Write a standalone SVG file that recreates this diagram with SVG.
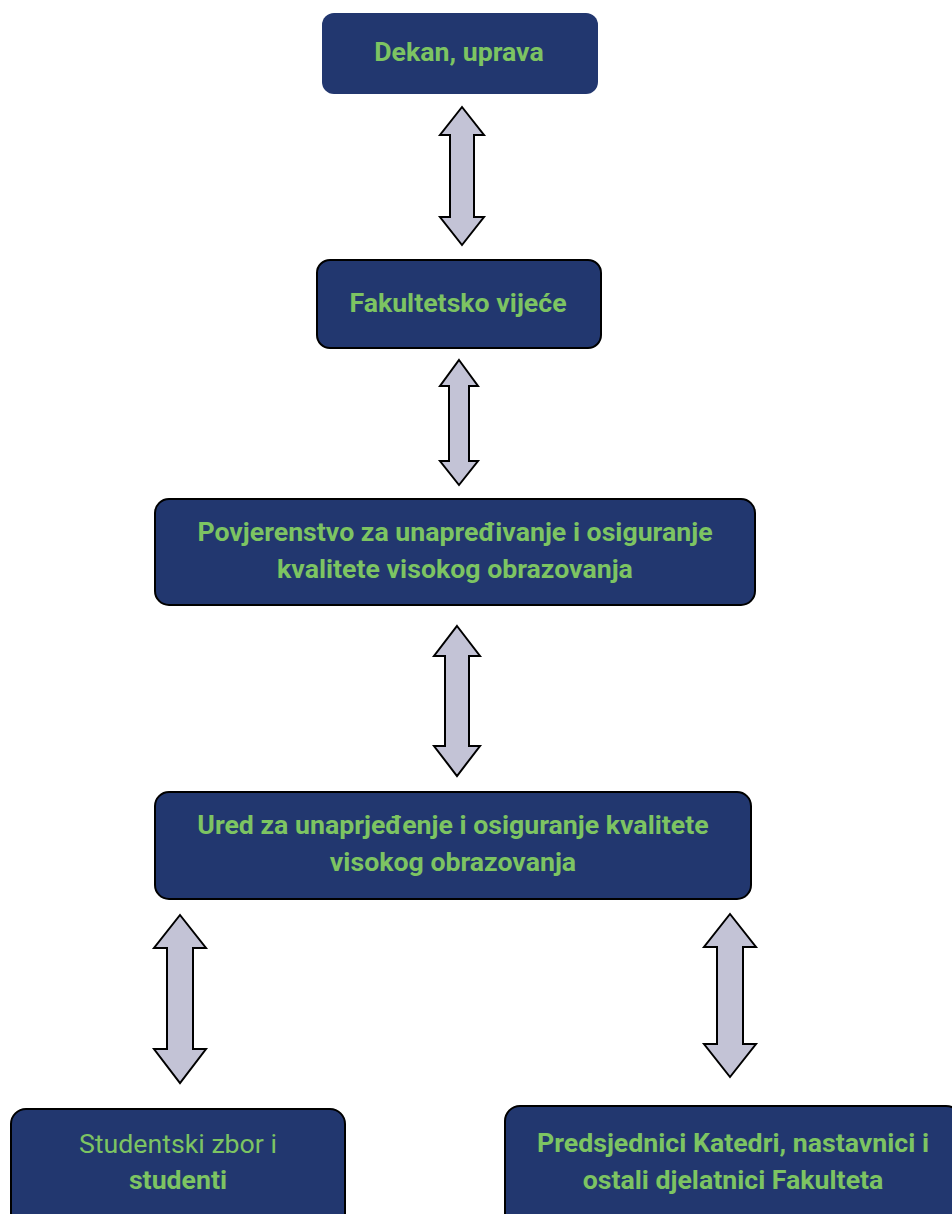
<svg xmlns="http://www.w3.org/2000/svg" width="952" height="1214" viewBox="0 0 952 1214">
<style>
.box{fill:#22376f;stroke:#000;stroke-width:2}
.t{font-family:Roboto,"Liberation Sans",sans-serif;font-size:26.7px;font-weight:bold;fill:#7dc462;text-anchor:middle}
.r{font-weight:normal}
.arr{fill:#c3c3d6;stroke:#000;stroke-width:2;stroke-linejoin:miter}
</style>
<rect width="952" height="1214" fill="#fff"/>
<g id="connectors">
<polygon class="arr" points="462,107 484,135 474,135 474,217 484,217 462,245 440,217 450,217 450,135 440,135"/>
<polygon class="arr" points="459,360 478,386 469,386 469,461 478,461 459,485 440,461 449,461 449,386 440,386"/>
<polygon class="arr" points="457,626 480,656 469,656 469,746 480,746 457,776 434,746 445,746 445,656 434,656"/>
<polygon class="arr" points="180,915 206,948 193,948 193,1049 206,1049 180,1083 154,1049 167,1049 167,948 154,948"/>
<polygon class="arr" points="730,914 756,947 743,947 743,1044 756,1044 730,1077 704,1044 717,1044 717,947 704,947"/>
</g>
<g id="n1">
<rect x="322" y="13" width="276" height="81" rx="12" fill="#22376f"/>
<text class="t" x="459" y="61">Dekan, uprava</text>
</g>
<g id="n2">
<rect class="box" x="317" y="260" width="284" height="88" rx="13"/>
<text class="t" x="458" y="312">Fakultetsko vijeće</text>
</g>
<g id="n3">
<rect class="box" x="155" y="499" width="600" height="106" rx="14"/>
<text class="t" x="455" y="541">Povjerenstvo za unapređivanje i osiguranje</text>
<text class="t" x="455" y="578">kvalitete visokog obrazovanja</text>
</g>
<g id="n4">
<rect class="box" x="155" y="792" width="596" height="107" rx="14"/>
<text class="t" x="453" y="834">Ured za unaprjeđenje i osiguranje kvalitete</text>
<text class="t" x="453" y="871">visokog obrazovanja</text>
</g>
<g id="n5">
<rect class="box" x="11" y="1109" width="334" height="130" rx="15"/>
<text class="t r" x="178" y="1153">Studentski zbor i</text>
<text class="t" x="178" y="1189">studenti</text>
</g>
<g id="n6">
<rect class="box" x="505" y="1106" width="456" height="130" rx="15"/>
<text class="t" x="733" y="1152">Predsjednici Katedri, nastavnici i</text>
<text class="t" x="733" y="1189">ostali djelatnici Fakulteta</text>
</g>
</svg>
